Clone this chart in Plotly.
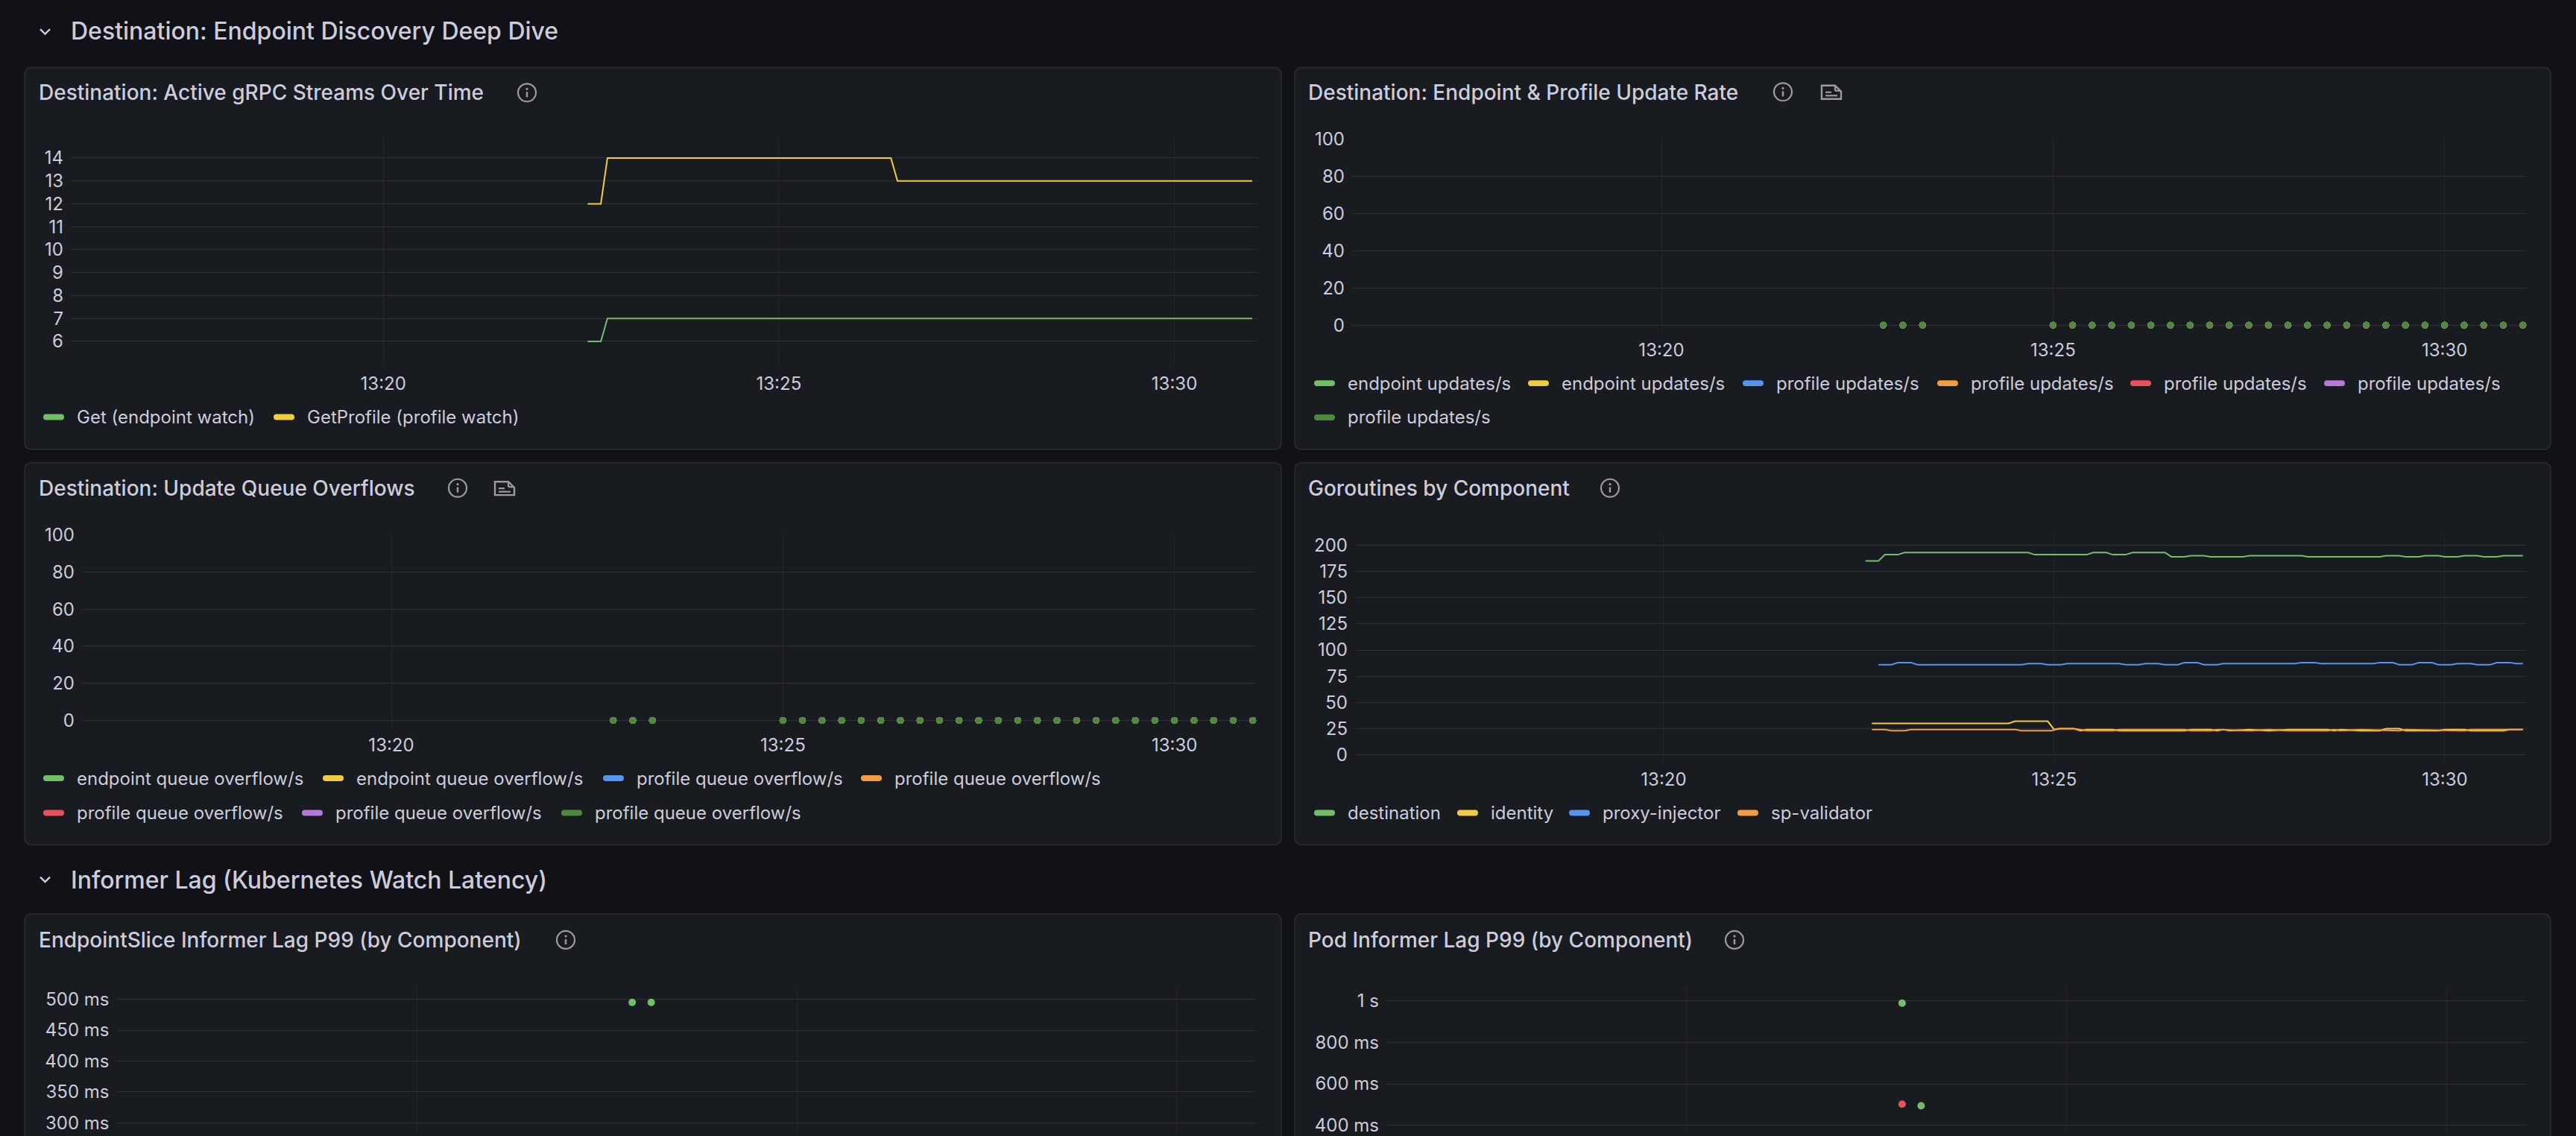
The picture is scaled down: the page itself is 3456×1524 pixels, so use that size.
import plotly.graph_objects as go

W, H = 3456, 1524
DAY = "2024-05-14 "

# ---------------- data ----------------
# Destination: Active gRPC Streams Over Time
stream_t = ["13:22:35", "13:22:45", "13:22:50", "13:26:25", "13:26:30", "13:30:59"]
get_endpoint = [6, 6, 7, 7, 7, 7]
get_profile = [12, 12, 14, 14, 13, 13]
stream_names = ["Get (endpoint watch)", "GetProfile (profile watch)"]

# Endpoint & Profile Update Rate / Update Queue Overflows (all series sit at 0)
update_t = ["13:22:50", "13:23:05", "13:23:20",
            "13:25:00", "13:25:15", "13:25:30", "13:25:45", "13:26:00", "13:26:15",
            "13:26:30", "13:26:45", "13:27:00", "13:27:15", "13:27:30", "13:27:45",
            "13:28:00", "13:28:15", "13:28:30", "13:28:45", "13:29:00", "13:29:15",
            "13:29:30", "13:29:45", "13:30:00", "13:30:15", "13:30:30", "13:30:45",
            "13:31:00"]
update_vals = [0, 0, 0, 0, 0, 0, 0, 0, 0, 0, 0, 0, 0, 0,
               0, 0, 0, 0, 0, 0, 0, 0, 0, 0, 0, 0, 0, 0]
update_names = ["endpoint updates/s", "endpoint updates/s", "profile updates/s",
                "profile updates/s", "profile updates/s", "profile updates/s",
                "profile updates/s"]
overflow_names = ["endpoint queue overflow/s", "endpoint queue overflow/s",
                  "profile queue overflow/s", "profile queue overflow/s",
                  "profile queue overflow/s", "profile queue overflow/s",
                  "profile queue overflow/s"]

# Goroutines by Component
dest_t = ["13:22:35", "13:22:45", "13:22:50", "13:23:00", "13:23:05", "13:24:40", "13:24:45",
          "13:25:25", "13:25:30", "13:25:40", "13:25:45", "13:25:55", "13:26:00", "13:26:25",
          "13:26:30", "13:26:40", "13:26:45", "13:26:55", "13:27:00", "13:27:25", "13:27:30",
          "13:28:10", "13:28:15", "13:29:10", "13:29:15", "13:29:25", "13:29:30", "13:29:40",
          "13:29:45", "13:29:55", "13:30:00", "13:30:10", "13:30:15", "13:30:25", "13:30:30",
          "13:30:40", "13:30:45", "13:31:00"]
dest_v = [185, 185, 191, 191, 193, 193, 191, 191, 193, 193, 191, 191, 193, 193,
          189, 189, 190, 190, 189, 189, 190, 190, 189, 189, 190, 190, 189, 189,
          190, 190, 189, 189, 190, 190, 189, 189, 190, 190]

ident_t = ["13:22:40", "13:24:25", "13:24:30", "13:24:55", "13:25:00", "13:25:05", "13:25:15",
           "13:25:20", "13:25:25", "13:25:45", "13:25:50", "13:26:40", "13:26:45", "13:27:00",
           "13:27:05", "13:27:10", "13:27:15", "13:27:30", "13:27:45", "13:28:00", "13:28:30",
           "13:28:35", "13:28:40", "13:28:55", "13:29:10", "13:29:15", "13:29:25", "13:29:30",
           "13:29:55", "13:30:00", "13:30:15", "13:30:20", "13:30:45", "13:30:50", "13:31:00"]
ident_v = [30, 30, 32, 32, 24, 25, 25, 23, 24, 24, 23, 23, 24, 24, 23, 24, 23, 24,
           23, 24, 24, 23, 24, 23, 23, 25, 25, 23, 23, 24, 24, 23, 23, 24, 24]

inj_t = ["13:22:45", "13:22:55", "13:23:00", "13:23:10", "13:23:15", "13:24:35", "13:24:40",
         "13:24:50", "13:24:55", "13:25:05", "13:25:10", "13:25:50", "13:25:55", "13:26:05",
         "13:26:10", "13:26:20", "13:26:25", "13:26:35", "13:26:40", "13:26:50", "13:26:55",
         "13:27:05", "13:27:10", "13:28:05", "13:28:10", "13:28:20", "13:28:25", "13:29:05",
         "13:29:10", "13:29:20", "13:29:25", "13:29:35", "13:29:40", "13:29:50", "13:29:55",
         "13:30:05", "13:30:10", "13:30:20", "13:30:25", "13:30:35", "13:30:40", "13:30:50",
         "13:30:55", "13:31:00"]
inj_v = [86, 86, 88, 88, 86, 86, 87, 87, 86, 86, 87, 87, 86, 86, 87, 87, 86, 86,
         88, 88, 86, 86, 87, 87, 88, 88, 87, 87, 88, 88, 86, 86, 88, 88, 86, 86,
         87, 87, 86, 86, 88, 88, 87, 87]

spv_t = ["13:22:40", "13:22:50", "13:22:55", "13:23:05", "13:23:10", "13:24:30", "13:24:35",
         "13:24:58", "13:25:03", "13:25:15", "13:25:20", "13:25:25", "13:25:45", "13:25:50",
         "13:26:40", "13:26:45", "13:27:00", "13:27:05", "13:27:30", "13:27:45", "13:28:00",
         "13:28:30", "13:28:35", "13:28:40", "13:28:55", "13:29:15", "13:29:25", "13:29:30",
         "13:30:00", "13:30:15", "13:30:20", "13:31:00"]
spv_v = [24, 24, 23, 23, 24, 24, 23, 23, 25, 25, 24, 23, 23, 24, 24, 23, 23, 24,
         23, 24, 23, 23, 24, 23, 24, 23, 23, 24, 23, 23, 24, 24]
goroutine_names = ["destination", "identity", "proxy-injector", "sp-validator"]

# Informer lag (ms)
eps_lag_t = ["13:22:50", "13:23:05"]
eps_lag_v = [495, 495]
pod_lag_t = ["13:22:50", "13:23:05"]
pod_lag_v = [990, 494]
pod_lag2_t = ["13:22:50"]
pod_lag2_v = [502]

# tick labels
streams_ticks = [6, 7, 8, 9, 10, 11, 12, 13, 14]
rate_ticks = [0, 20, 40, 60, 80, 100]
gor_ticks = [0, 25, 50, 75, 100, 125, 150, 175, 200]
eps_ticks = [300, 350, 400, 450, 500]
eps_ticktext = ["300 ms", "350 ms", "400 ms", "450 ms", "500 ms"]
pod_ticks = [400, 600, 800, 1000]
pod_ticktext = ["400 ms", "600 ms", "800 ms", "1 s"]

# ---------------- style ----------------
FONT = "Inter"
TEXT = "#ccccdc"
ICON = "#9a9ba3"
BG = "#111217"
PANEL = "#181b1f"
BORDER = "#2a2c31"
HGRID = "#2e3035"
VGRID = "#25272b"
GREEN = "#73BF69"
YELLOW = "#F0CD40"
BLUE = "#5794F2"
ORANGE = "#F59B42"
RED = "#E9505C"
PURPLE = "#B877D9"
DKGREEN = "#4B8B3B"
seven = [GREEN, YELLOW, BLUE, ORANGE, RED, PURPLE, DKGREEN]

# the captured page comes out shifted/squeezed a little vertically; undo that
Y_OFF, Y_SC = 13.4, 0.9885


def X(x):
    return x / W


def Y(y):
    return 1 - ((y - Y_OFF) / Y_SC) / H


def T(s):
    return DAY + s


def ts(lst):
    return [T(s) for s in lst]


fig = go.Figure()
shapes = []
annotations = []


def rrect(x0, y0, x1, y1, r, fill, line=None, lw=1):
    p = (f"M {X(x0 + r)} {Y(y0)} L {X(x1 - r)} {Y(y0)} Q {X(x1)} {Y(y0)} {X(x1)} {Y(y0 + r)} "
         f"L {X(x1)} {Y(y1 - r)} Q {X(x1)} {Y(y1)} {X(x1 - r)} {Y(y1)} "
         f"L {X(x0 + r)} {Y(y1)} Q {X(x0)} {Y(y1)} {X(x0)} {Y(y1 - r)} "
         f"L {X(x0)} {Y(y0 + r)} Q {X(x0)} {Y(y0)} {X(x0 + r)} {Y(y0)} Z")
    shapes.append(dict(type="path", path=p, xref="paper", yref="paper", fillcolor=fill,
                       line=dict(color=line or fill, width=lw if line else 0), layer="below"))


def text(x, y, s, size, color=TEXT, weight=400, anchor="left"):
    annotations.append(dict(x=X(x), y=Y(y), xref="paper", yref="paper", text=s, showarrow=False,
                            xanchor=anchor, yanchor="middle",
                            font=dict(family=FONT, size=size, color=color, weight=weight)))


def info_icon(cx, cy):
    shapes.append(dict(type="circle", xref="paper", yref="paper", x0=X(cx - 12), x1=X(cx + 12),
                       y0=Y(cy - 12), y1=Y(cy + 12), line=dict(color=ICON, width=2.2)))
    shapes.append(dict(type="line", xref="paper", yref="paper", x0=X(cx), x1=X(cx),
                       y0=Y(cy - 1), y1=Y(cy + 6), line=dict(color=ICON, width=2.5)))
    shapes.append(dict(type="circle", xref="paper", yref="paper", x0=X(cx - 1.6), x1=X(cx + 1.6),
                       y0=Y(cy - 6.6), y1=Y(cy - 3.4), fillcolor=ICON, line=dict(width=0)))


def doc_icon(cx, cy):
    pts = [(-13, -9), (5, -9), (13, -1), (13, 9), (-13, 9)]
    p = "M " + " L ".join(f"{X(cx + dx)} {Y(cy + dy)}" for dx, dy in pts) + " Z"
    shapes.append(dict(type="path", path=p, xref="paper", yref="paper",
                       line=dict(color=ICON, width=2.4)))
    for (ax, ay, bx, by) in [(-8, 0, 0, 0), (-8, 4.5, 8, 4.5), (5, -9, 5, -2), (5, -2, 12, -2)]:
        shapes.append(dict(type="line", xref="paper", yref="paper", x0=X(cx + ax), x1=X(cx + bx),
                           y0=Y(cy + ay), y1=Y(cy + by), line=dict(color=ICON, width=2.2)))


def chevron(cx, cy):
    p = f"M {X(cx - 6.5)} {Y(cy - 3.5)} L {X(cx)} {Y(cy + 3)} L {X(cx + 6.5)} {Y(cy - 3.5)}"
    shapes.append(dict(type="path", path=p, xref="paper", yref="paper",
                       line=dict(color=TEXT, width=2.4)))


def legend(items, y):
    # items: (label, color, text_left_px)
    for label, color, xt in items:
        rrect(xt - 43, y - 4, xt - 15, y + 4, 4, color)
        text(xt, y, label, 24)


axes = {}


def set_axes(i, L, R, Tp, B, yrange, tickvals, ticktext=None, show_x=True):
    xa = "xaxis" if i == 1 else f"xaxis{i}"
    ya = "yaxis" if i == 1 else f"yaxis{i}"
    axes[xa] = dict(domain=[X(L), X(R)], anchor="y" if i == 1 else f"y{i}", type="date",
                    range=[T("13:16:03"), T("13:31:03")], tickformat="%H:%M", dtick=300000,
                    tick0=T("13:20:00"), showgrid=True, gridcolor=VGRID, gridwidth=1,
                    zeroline=False, showline=False, ticks="", showticklabels=show_x,
                    ticklabelstandoff=8,
                    tickfont=dict(family=FONT, size=24, color=TEXT), fixedrange=True)
    axes[ya] = dict(domain=[max(0, Y(B)), Y(Tp)], anchor="x" if i == 1 else f"x{i}",
                    range=yrange, tickmode="array", tickvals=tickvals,
                    ticktext=ticktext if ticktext else [str(v) for v in tickvals],
                    showgrid=True, gridcolor=HGRID, gridwidth=1, zeroline=False, showline=False,
                    ticks="", ticklabelstandoff=9, ticklabeloverflow="allow",
                    tickfont=dict(family=FONT, size=24, color=TEXT), fixedrange=True)


def add(i, x, y, color, mode="lines", size=9):
    kw = dict(x=ts(x), y=y, mode=mode, showlegend=False, hoverinfo="skip",
              xaxis="x" if i == 1 else f"x{i}", yaxis="y" if i == 1 else f"y{i}")
    if mode == "lines":
        kw["line"] = dict(color=color, width=2)
    else:
        kw["marker"] = dict(color=color, size=size, line=dict(width=0))
    fig.add_trace(go.Scatter(**kw))


# ---------------- panels ----------------
chevron(60.5, 41)
text(93, 40, "Destination: Endpoint Discovery Deep Dive", 32, weight=500)
chevron(60.5, 1182)
text(93, 1182, "Informer Lag (Kubernetes Watch Latency)", 32, weight=500)

for (x0, y0, x1, y1) in [(33, 89, 1719, 603), (1737, 89, 3422, 603),
                         (33, 621, 1719, 1135), (1737, 621, 3422, 1135),
                         (33, 1228, 1719, 1760), (1737, 1228, 3422, 1760)]:
    rrect(x0, y0, x1, y1, 10, PANEL, BORDER, 1.5)

# 1 - active streams
text(50, 123, "Destination: Active gRPC Streams Over Time", 28, weight=500)
info_icon(707, 123)
set_axes(1, 95, 1687, 186, 490, [4.95, 14.81], streams_ticks)
add(1, stream_t, get_endpoint, GREEN)
add(1, stream_t, get_profile, YELLOW)
legend([(stream_names[0], GREEN, 101), (stream_names[1], YELLOW, 410)], 559.5)

# 2 - update rate
text(1753, 123, "Destination: Endpoint &amp; Profile Update Rate", 28, weight=500)
info_icon(2392, 122)
doc_icon(2457, 122.5)
set_axes(2, 1814, 3390, 186, 445, [-3.6, 100], rate_ticks)
for c in seven:
    add(2, update_t, update_vals, c, mode="markers")
xs2 = [1806, 2093, 2381, 2642, 2901, 3161]
legend([(update_names[k], seven[k], xs2[k]) for k in range(6)], 514)
legend([(update_names[6], seven[6], 1806)], 560)

# 3 - queue overflows
text(50, 655, "Destination: Update Queue Overflows", 28, weight=500)
info_icon(614, 655)
doc_icon(677, 655.5)
set_axes(3, 110, 1686, 718, 976.6, [-3.56, 100], rate_ticks)
for c in seven:
    add(3, update_t, update_vals, c, mode="markers")
xs3a = [101, 476, 852, 1198]
xs3b = [101, 448, 796]
legend([(overflow_names[k], seven[k], xs3a[k]) for k in range(4)], 1045.5)
legend([(overflow_names[4 + k], seven[4 + k], xs3b[k]) for k in range(3)], 1092)

# 4 - goroutines
text(1753, 655, "Goroutines by Component", 28, weight=500)
info_icon(2160, 655)
set_axes(4, 1818, 3390, 718, 1022, [-5.7, 209.9], gor_ticks)
add(4, dest_t, dest_v, GREEN)
add(4, ident_t, ident_v, YELLOW)
add(4, inj_t, inj_v, BLUE)
add(4, spv_t, spv_v, ORANGE)
xs4 = [1806, 1998, 2148, 2374]
legend([(goroutine_names[k], [GREEN, YELLOW, BLUE, ORANGE][k], xs4[k]) for k in range(4)], 1092)

# bottom panels run past the bottom edge; the visible plot ends at the figure bottom
y_bottom = Y_OFF + Y_SC * H

# 5 - endpointslice lag  (500 ms at y=1343, 50 ms = 41.5 px)
text(50, 1263, "EndpointSlice Informer Lag P99 (by Component)", 28, weight=500)
info_icon(759, 1263)
set_axes(5, 156.5, 1686, 1326.7, y_bottom,
         [500 - (y_bottom - 1343) / 41.5 * 50, 519.6], eps_ticks, eps_ticktext, show_x=False)
add(5, eps_lag_t, eps_lag_v, GREEN, mode="markers", size=10)

# 6 - pod lag  (1 s at y=1345.3, 200 ms = 55.7 px)
text(1753, 1263, "Pod Informer Lag P99 (by Component)", 28, weight=500)
info_icon(2327, 1263)
set_axes(6, 1860, 3390, 1326.7, y_bottom,
         [1000 - (y_bottom - 1345.3) / 55.7 * 200, 1066.8], pod_ticks, pod_ticktext, show_x=False)
add(6, pod_lag_t, pod_lag_v, GREEN, mode="markers", size=10)
add(6, pod_lag2_t, pod_lag2_v, RED, mode="markers", size=10)

fig.update_layout(width=W, height=H, margin=dict(l=0, r=0, t=0, b=0),
                  paper_bgcolor=BG, plot_bgcolor="rgba(0,0,0,0)",
                  font=dict(family=FONT, color=TEXT), showlegend=False,
                  shapes=shapes, annotations=annotations, **axes)

# pin the chart to the top-left corner of the page (no body margin)
pin = ("document.body.style.margin='0';document.body.style.overflow='hidden';"
       "document.body.style.background='#111217';"
       "var d=document.getElementById('{plot_id}');d.style.position='fixed';"
       "d.style.left='0px';d.style.top='0px';")
fig.write_html("out.html", config={"displayModeBar": False}, post_script=pin)
